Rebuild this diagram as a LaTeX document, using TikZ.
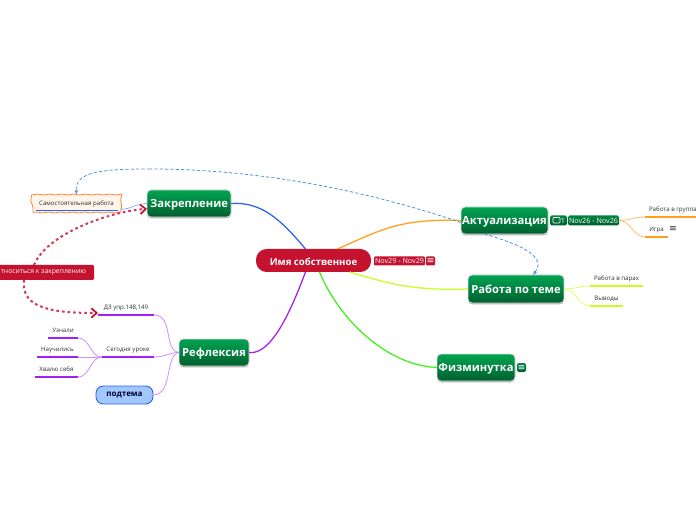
\documentclass[tikz,border=0pt]{standalone}
\usepackage{fontspec}
\setmainfont{Open Sans}
\newfontfamily\symfont{DejaVu Sans}
\usetikzlibrary{shadows,decorations.pathmorphing,arrows.meta,calc}
\definecolor{rootred}{HTML}{C4122F}
\definecolor{topA}{HTML}{00A552}
\definecolor{topB}{HTML}{005E2E}
\definecolor{cblue}{HTML}{2D62F0}
\definecolor{corange}{HTML}{FF9F1C}
\definecolor{cyellow}{HTML}{C8FF1E}
\definecolor{cgreen}{HTML}{44F01A}
\definecolor{cpurple}{HTML}{A51EF5}
\definecolor{lpurple}{HTML}{D08CFF}
\definecolor{lorange}{HTML}{FFBE6A}
\definecolor{lyellow}{HTML}{DDFF66}
\definecolor{lblue}{HTML}{8FB0FF}
\definecolor{relblue}{HTML}{4A94E0}
\definecolor{reldash}{HTML}{CF3A58}
\definecolor{txt}{HTML}{303030}
\definecolor{podfill}{HTML}{A0C8FF}
\tikzset{
  sz/.style 2 args={minimum width=#1*0.75pt,minimum height=#2*0.75pt,inner sep=0pt,outer sep=0pt},
  rootbox/.style={fill=rootred,rounded corners=8pt,text=white,text height=7.8pt,text depth=0.2pt,font=\fontsize{7.2}{10}\selectfont\bfseries},
  topic/.style={top color=topA,bottom color=topB,draw=white!85!black,line width=0.6pt,rounded corners=3pt,text=white,text height=7pt,text depth=0.8pt,
    font=\fontsize{8.4}{11}\selectfont\bfseries,drop shadow={shadow xshift=0pt,shadow yshift=-1pt,fill=black,opacity=.3}},
  tagred/.style={fill=rootred,rounded corners=0.8pt,text=white,font=\fontsize{5.4}{7}\selectfont},
  taggreen/.style={top color=topA!80!black,bottom color=topB,rounded corners=1.2pt,text=white,font=\fontsize{5.4}{7}\selectfont},
  leaf/.style={text=txt,text height=4.4pt,text depth=0pt,font=\fontsize{4.6}{6}\selectfont},
  under/.style={line width=1.1pt},
  conn/.style={line width=0.95pt},
  sub/.style={line width=0.6pt},
  rel/.style={relblue,line width=0.6pt,dash pattern=on 2.4pt off 1.6pt},
  reltip/.style={-{Latex[length=3pt,width=3pt]}},
  redrel/.style={reldash,line width=1.5pt,dash pattern=on 2pt off 2.2pt},
  redtip/.style={-{Straight Barb[length=4pt,width=7pt,line width=1.3pt,color=rootred]}},
  iconsym/.style={text=white,font=\fontsize{7}{7}\symfont},
}
\begin{document}
\begin{tikzpicture}[x=0.75pt,y=-0.75pt]
\useasboundingbox (0,0) rectangle (696,520);
\clip (0,0) rectangle (696,520);
% nodes
\node[rootbox,sz={115}{23}] (root) at (313.5,260.5) {Имя собственное};
\node[tagred,sz={51}{9}] (rootdate) at (399.5,261) {Nov29 - Nov29};
\node[tagred,sz={9}{9},iconsym] (rootnote) at (430.5,261) {≡};
\node[topic,sz={84}{27}] (zak) at (189,203.5) {Закрепление};
\node[topic,sz={70}{27}] (ref) at (214,352.5) {Рефлексия};
\node[topic,sz={87}{27}] (akt) at (504.5,220.5) {Актуализация};
\node[topic,sz={96}{28}] (rab) at (516,289) {Работа по теме};
\node[topic,sz={78}{27}] (fiz) at (476,367.5) {Физминутка};
\node[taggreen,sz={17}{10}] (aktcom) at (558.5,220.5) {};
\node[taggreen,sz={51}{10}] (aktdate) at (593.5,220.5) {Nov26 - Nov26};
\node[taggreen,sz={9}{9},iconsym] (fiznote) at (521.5,367.5) {≡};
\node[font=\fontsize{5.4}{7}\selectfont,text=white,inner sep=0pt] (comnum) at (563,220.5) {1};
\draw[white,line width=0.45pt,rounded corners=0.6pt] (553,217.5) rectangle (560,223) ;
% small box with wavy edge
\node[fill=orange!8,draw=orange!70!red!75,line width=0.6pt,decorate,decoration={snake,amplitude=0.35pt,segment length=9pt},sz={87}{18},
  text=txt,font=\fontsize{4.6}{6}\selectfont,anchor=center] (sam) at (76.5,203.5) {\raisebox{0.5pt}{Самостоятельная работа}};
\draw[cblue,line width=1pt] ([xshift=2pt,yshift=1.6pt]sam.south west) -- ([xshift=-1.5pt,yshift=1.6pt]sam.south east);
% red callout
\node[fill=rootred,rounded corners=0.8pt,text=white,font=\fontsize{5.1}{7}\selectfont,sz={100}{15},anchor=east] (call) at (94,272.5) {\makebox[75pt][r]{тноситься к закреплению\hspace{6pt}}};
% leaves
\node[leaf,sz={56}{16}] (dz) at (126,307) {ДЗ упр.148,149};
\node[leaf,sz={52}{16}] (seg) at (128,349) {Сегодня уроке};
\node[leaf,sz={30}{16}] (uzn) at (63,330) {Узнали};
\node[leaf,sz={41}{16}] (nau) at (57.5,349) {Научились};
\node[leaf,sz={43}{16}] (hva) at (56.5,369) {Хвалю себя};
\node[fill=podfill,draw=cblue,line width=0.7pt,rounded corners=5.5pt,sz={57}{18},
  font=\fontsize{6}{7}\selectfont\bfseries,text=black!80!blue] (pod) at (124.5,395) {подтема};
\node[leaf,sz={51}{16}] (gru) at (670.5,209) {\makebox[38.25pt][l]{\hspace{3pt}Работа в группа}};
\node[leaf,sz={23}{16}] (igr) at (656.5,229) {Игра};
\node[text=txt,font=\fontsize{7}{7}\symfont,inner sep=0pt] (igrnote) at (673,229) {≡};
\node[leaf,sz={53}{16}] (par) at (616.5,278) {Работа в парах};
\node[leaf,sz={33}{16}] (vyv) at (606.5,298) {Выводы};
% underlines
\foreach \n in {dz,seg,uzn,nau,hva} \draw[under,cpurple] (\n.south west) -- (\n.south east);
\foreach \n in {gru,igr} \draw[under,corange] (\n.south west) -- (\n.south east);
\foreach \n in {par,vyv} \draw[under,cyellow] (\n.south west) -- (\n.south east);
% main connectors
\draw[conn,cblue] ([xshift=-8*0.75pt]root.north) .. controls +(-25,-30) and +(30,-2) .. (zak.east);
\draw[conn,corange] ([xshift=24*0.75pt]root.north) .. controls +(45,-20) and +(-60,-2) .. (akt.west);
\draw[conn,cyellow] ([xshift=36*0.75pt]root.south) .. controls +(35,10) and +(-60,2) .. (rab.west);
\draw[conn,cgreen] ([xshift=6*0.75pt]root.south) .. controls +(20,48) and +(-50,-2) .. (fiz.west);
\draw[conn,cpurple] ([xshift=-8*0.75pt]root.south) .. controls +(-15,40) and +(22,3) .. (ref.east);
% sub connectors
\draw[sub,lblue] ([yshift=2.4pt]sam.south east) .. controls +(12,0) and +(-12,0) .. (zak.west);
\draw[sub,lpurple] (dz.south east) .. controls +(20,0) and +(-16,-2) .. (ref.west);
\draw[sub,lpurple] (seg.south east) .. controls +(12,0) and +(-10,0) .. (ref.west);
\draw[sub,lpurple] (pod.east) .. controls +(20,0) and +(-14,2) .. (ref.west);
\draw[sub,lpurple] (uzn.south east) .. controls +(12,0) and +(-12,0) .. (seg.south west);
\draw[sub,lpurple] (nau.south east) -- (seg.south west);
\draw[sub,lpurple] (hva.south east) .. controls +(12,0) and +(-12,0) .. (seg.south west);
\draw[sub,lorange] (aktdate.east) .. controls +(12,0) and +(-12,0) .. (gru.south west);
\draw[sub,lorange] (aktdate.east) .. controls +(12,0) and +(-12,0) .. (igr.south west);
\draw[sub,lyellow] (rab.east) .. controls +(12,0) and +(-12,0) .. (par.south west);
\draw[sub,lyellow] (rab.east) .. controls +(12,0) and +(-12,0) .. (vyv.south west);
% relationships
\coordinate (relmid) at (150,169);
\draw[rel] ([yshift=-1.5pt]akt.west) .. controls (380,195) and (270,169) .. (relmid);
\draw[rel,reltip] (relmid) .. controls (100,169) and (75,172) .. (sam.north);
\draw[rel,reltip] ([xshift=-15pt]akt.south) .. controls (515,243) and (548,255) .. ([xshift=12.75pt]rab.north);
\draw[redrel,redtip] ([xshift=-45pt]call.north east) .. controls +(12,-30) and +(-40,3) .. ([yshift=-4pt]zak.west);
\draw[redrel,redtip] ([xshift=-52.5pt]call.south east) .. controls +(-4,30) and +(-40,0) .. ([yshift=1.5pt]dz.south west);
\end{tikzpicture}
\end{document}
